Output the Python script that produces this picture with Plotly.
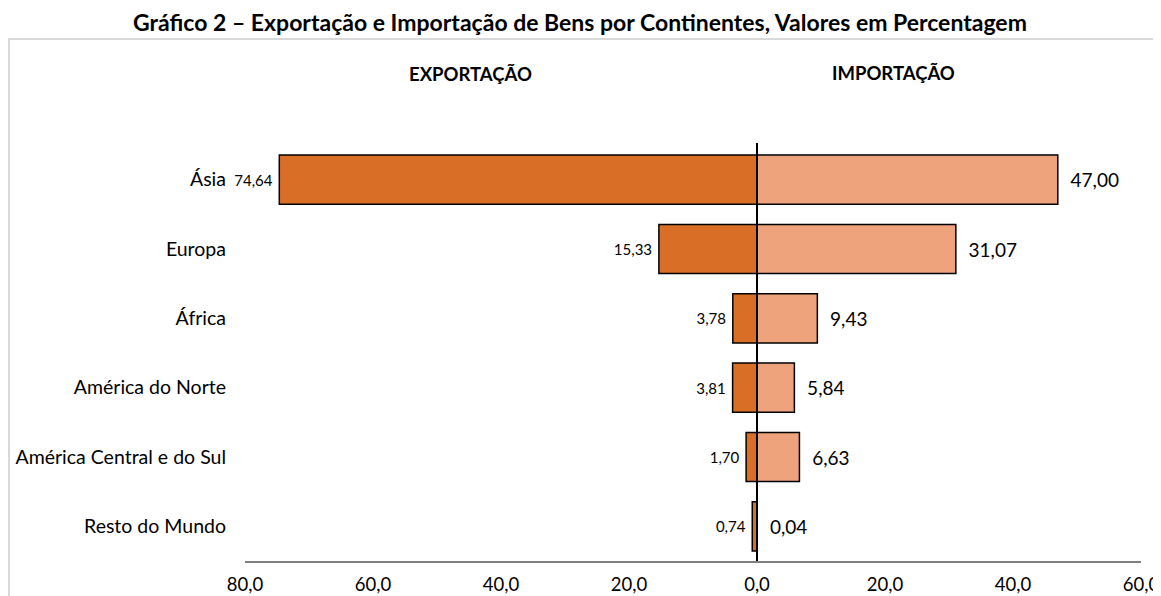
import plotly.graph_objects as go

categories = ["Ásia", "Europa", "África", "América do Norte", "América Central e do Sul", "Resto do Mundo"]
exportacao = [74.64, 15.33, 3.78, 3.81, 1.70, 0.74]
importacao = [47.00, 31.07, 9.43, 5.84, 6.63, 0.04]
tick_values = [-80, -60, -40, -20, 0, 20, 40, 60]
tick_labels = ["80,0", "60,0", "40,0", "20,0", "0,0", "20,0", "40,0", "60,0"]

FONT = "Lato"

W, H = 1161, 588
L, R, T, B = 237, 28, 137, 35
PW, PH = W - L - R, H - T - B

def px_x(x):
    return (x - 8 - L) / PW

def px_y(y):
    return (H - (y - 8) - B) / PH

def fmt(v):
    return f"{v:.2f}".replace(".", ",")

fig = go.Figure()
fig.add_trace(go.Bar(
    y=categories, x=[-v for v in exportacao], orientation="h",
    marker=dict(color="#D96F27", line=dict(color="black", width=1.5)),
    text=[fmt(v) + "\u00a0" for v in exportacao], textposition="outside",
    textfont=dict(size=15, color="black", family=FONT),
    cliponaxis=False, width=0.71, name="Exportação", showlegend=False,
))
fig.add_trace(go.Bar(
    y=categories, x=importacao, orientation="h",
    marker=dict(color="#EFA37C", line=dict(color="black", width=1.5)),
    text=["\u00a0\u00a0" + fmt(v) for v in importacao], textposition="outside",
    textfont=dict(size=19, color="black", family=FONT),
    cliponaxis=False, width=0.71, name="Importação", showlegend=False,
))

fig.update_layout(
    barmode="relative",
    width=W, height=H,
    margin=dict(l=L, r=R, t=T, b=B, autoexpand=False),
    paper_bgcolor="white", plot_bgcolor="white",
    font=dict(family=FONT, color="black"),
    title=dict(text="<b>Gráfico 2 – Exportação e Importação de Bens por Continentes, Valores em Percentagem</b>",
               xref="container", x=(580 - 8) / W, xanchor="center",
               yref="container", y=1 - 14.5 / H, yanchor="middle", font=dict(size=23, family=FONT)),
    xaxis=dict(range=[-80, 60], tickvals=tick_values, ticktext=tick_labels,
               showgrid=False, zeroline=False, showline=True, linecolor="#808080", linewidth=1.5,
               ticks="", tickfont=dict(size=18.5), ticklabelstandoff=6,
               automargin=False, ticklabeloverflow="allow"),
    yaxis=dict(categoryorder="array", categoryarray=categories[::-1],
               showgrid=False, zeroline=False, showline=False, ticks="",
               tickfont=dict(size=19.5), ticklabelstandoff=18, automargin=False),
    shapes=[
        dict(type="line", xref="x", yref="paper", x0=0, x1=0, y0=0, y1=px_y(143),
             line=dict(color="black", width=2)),
        dict(type="line", xref="paper", yref="paper", x0=px_x(9), x1=px_x(9),
             y0=px_y(39), y1=px_y(600), line=dict(color="#D9D9D9", width=2), layer="below"),
        dict(type="line", xref="paper", yref="paper", x0=px_x(8), x1=px_x(1170),
             y0=px_y(39), y1=px_y(39), line=dict(color="#D9D9D9", width=2), layer="below"),
    ],
    annotations=[
        dict(text="<b>EXPORTAÇÃO</b>", x=px_x(470), y=px_y(74), xref="paper", yref="paper",
             xanchor="center", yanchor="middle",
             showarrow=False, font=dict(size=18.5, family=FONT)),
        dict(text="<b>IMPORTAÇÃO</b>", x=px_x(893), y=px_y(73), xref="paper", yref="paper",
             xanchor="center", yanchor="middle",
             showarrow=False, font=dict(size=18.5, family=FONT)),
    ],
)

fig.write_html("out.html")
